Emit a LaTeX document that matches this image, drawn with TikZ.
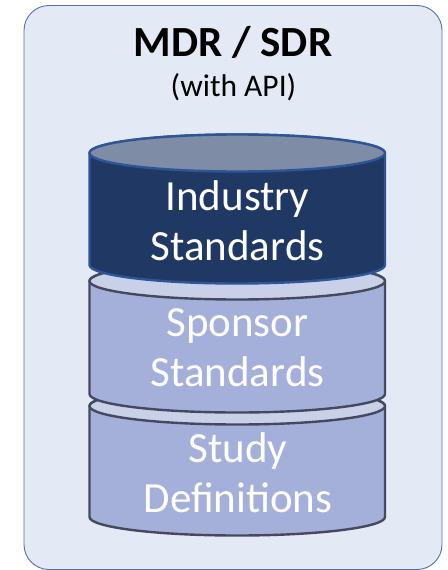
\documentclass[tikz,border=0pt]{standalone}
\usepackage{fontspec}
\setmainfont{Carlito}
\definecolor{panelfill}{HTML}{E3E9F5}
\definecolor{panelline}{HTML}{5A7198}
\definecolor{darkside}{HTML}{1F3864}
\definecolor{darktop}{HTML}{7F8CA6}
\definecolor{darkline}{HTML}{2F5597}
\definecolor{lightside}{HTML}{A5B0DA}
\definecolor{lighttop}{HTML}{C9D1E9}
\definecolor{lightline}{HTML}{44495F}
\tikzset{
  panel/.style={draw=panelline,fill=panelfill,line width=0.9pt},
  darkdb/.style={draw=darkline,line width=2.4pt,line join=round},
  lightdb/.style={draw=lightline,line width=2.4pt,line join=round},
  dbtext/.style={text=white,font=\fontsize{43}{50}\selectfont,align=center,inner sep=0pt},
  titletext/.style={text=black,font=\fontsize{43}{45}\selectfont\bfseries,inner sep=0pt},
  subtext/.style={text=black,font=\fontsize{31.5}{34}\selectfont,inner sep=0pt}
}
% #1 style, #2 top-ellipse centre y, #3 side bottom y, #4 side colour, #5 top colour
\newcommand{\dbcyl}[5]{%
  \path[#1,fill=#4] (89.5,#2) -- (89.5,#3) arc[start angle=180,end angle=0,x radius=147.75,y radius=18.5]
     -- (385,#2) arc[start angle=0,end angle=-180,x radius=147.75,y radius=18.5] -- cycle;
  \path[#1,fill=#5] (237.25,#2) ellipse[x radius=147.75,y radius=18.5];
}
\begin{document}
\begin{tikzpicture}[x=1pt,y=-1pt]
\useasboundingbox (0,0) rectangle (447,570);
\fill[white] (0,0) rectangle (447,570);
\draw[panel,rounded corners=25pt] (24,5.5) rectangle (442,569.5);
\dbcyl{lightdb}{406}{517}{lightside}{lighttop}
\dbcyl{lightdb}{281}{394}{lightside}{lighttop}
\dbcyl{darkdb}{153}{265}{darkside}{darktop}
\node[titletext] (title) at (233,42) {MDR / SDR};
\node[subtext] (subtitle) at (233.5,87) {(with API)};
\node[dbtext] (industry) at (237.5,220.5) {Industry\\Standards};
\node[dbtext] (sponsor) at (237.5,347.5) {Sponsor\\Standards};
\node[dbtext] (study) at (238,472.5) {Study\\Definitions};
\end{tikzpicture}
\end{document}
